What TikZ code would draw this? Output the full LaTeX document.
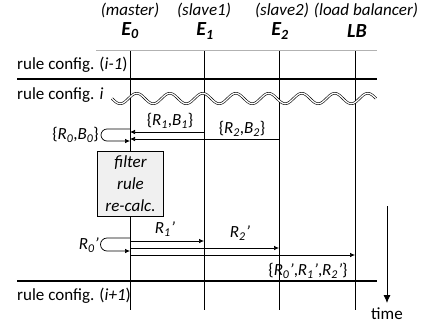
\documentclass[tikz,border=0pt]{standalone}
\usepackage{fontspec}
\setmainfont{Carlito}
\usetikzlibrary{arrows.meta}
\begin{document}
\begin{tikzpicture}[x=1bp,y=-1bp,
  font=\fontsize{17bp}{20bp}\selectfont,
  lifeline/.style={line width=0.8bp,black},
  thickrule/.style={line width=2.2bp,black},
  msg/.style={line width=0.7bp,-{Latex[length=5bp,width=4.5bp]}},
  lbl/.style={inner sep=0pt},
  hdr/.style={inner sep=0pt,font=\fontsize{17bp}{20bp}\selectfont\itshape},
  ent/.style={inner sep=0pt,font=\fontsize{20bp}{22bp}\selectfont\bfseries\itshape},
  calcbox/.style={draw,fill=gray!12,line width=1bp,minimum width=65bp,minimum height=65bp,align=center,inner sep=0pt,font=\fontsize{17bp}{22bp}\selectfont\itshape}]
\useasboundingbox (0,0) rectangle (424,325);

% headers
\node[hdr] (h0) at (130,10) {(master)};
\node[hdr] (h1) at (204,10) {(slave1)};
\node[hdr] (h2) at (282,10) {(slave2)};
\node[hdr] (h3) at (366,10) {(load balancer)};
\node[ent] (n0) at (130,31) {E\textsubscript{0}};
\node[ent] (n1) at (205,31) {E\textsubscript{1}};
\node[ent] (n2) at (280,31) {E\textsubscript{2}};
\node[ent] (n3) at (357,31) {LB};

% lifelines
\foreach \n/\x in {0/130,1/204,2/279,3/355}{
  \coordinate (t\n) at (\x,50);
  \coordinate (b\n) at (\x,310);
  \draw[lifeline] (t\n) -- (b\n);
}

% horizontal rules
\coordinate (g1) at (96,50); \coordinate (g2) at (377,50);
\draw[gray!60,line width=0.8bp] (g1) -- (g2);
\coordinate (r1a) at (17,79); \coordinate (r1b) at (377,79);
\draw[thickrule] (r1a) -- (r1b);
\coordinate (r2a) at (17,281); \coordinate (r2b) at (377,281);
\draw[thickrule] (r2a) -- (r2b);

% row labels
\node[lbl,anchor=west] (c0) at (17,65) {rule config. (\textit{i-1})};
\node[lbl,anchor=west] (c1) at (17,95) {rule config. \textit{i}};
\node[lbl,anchor=west] (c2) at (17,296) {rule config. (\textit{i+1})};

% wave
\draw[double=white,line width=0.6bp,double distance=1.3bp]
  plot[domain=0:8,samples=240,smooth] ({112+33*\x},{98.5+5.2*sin(360*\x)});

% messages to master
\coordinate (m1s) at (204,132); \coordinate (m1e) at (130,132);
\draw[msg] (m1s) -- (m1e);
\coordinate (m2s) at (279,139); \coordinate (m2e) at (130,139);
\draw[msg] (m2s) -- (m2e);
\node[lbl] (lm1) at (170,121) {\{\textit{R\textsubscript{1}},\textit{B\textsubscript{1}}\}};
\node[lbl] (lm2) at (242,129) {\{\textit{R\textsubscript{2}},\textit{B\textsubscript{2}}\}};

% self loop R0,B0
\coordinate (s0a) at (130,129); \coordinate (s0b) at (130,141);
\draw[msg] (s0a) -- (107,129) arc[start angle=90,end angle=270,radius=6bp] -- (s0b);
\node[lbl,anchor=east] (ls0) at (99,135) {\{\textit{R\textsubscript{0}},\textit{B\textsubscript{0}}\}};

% filter box
\node[calcbox] (box) at (130.5,183.5) {filter\\rule\\re-calc.};

% self loop R0'
\coordinate (s1a) at (130,238); \coordinate (s1b) at (130,251);
\draw[msg] (s1a) -- (107,238) arc[start angle=90,end angle=270,radius=6.5bp] -- (s1b);
\node[lbl,anchor=east] (ls1) at (99,245) {\textit{R\textsubscript{0}’}};

% messages from master
\coordinate (p1s) at (130,241); \coordinate (p1e) at (204,241);
\draw[msg] (p1s) -- (p1e);
\coordinate (p2s) at (130,248); \coordinate (p2e) at (279,248);
\draw[msg] (p2s) -- (p2e);
\coordinate (p3s) at (130,255); \coordinate (p3e) at (355,255);
\draw[msg] (p3s) -- (p3e);
\node[lbl] (lp1) at (165,229) {\textit{R\textsubscript{1}’}};
\node[lbl] (lp2) at (240,233) {\textit{R\textsubscript{2}’}};
\node[lbl] (lp3) at (308,271) {\{\textit{R\textsubscript{0}’},\textit{R\textsubscript{1}’},\textit{R\textsubscript{2}’}\}};

% time arrow
\coordinate (ta) at (387,206);
\node[lbl] (tl) at (387,314) {time};
\draw[line width=0.8bp,-{Latex[length=8bp,width=7bp]}] (ta) -- (387,303);
\end{tikzpicture}
\end{document}
